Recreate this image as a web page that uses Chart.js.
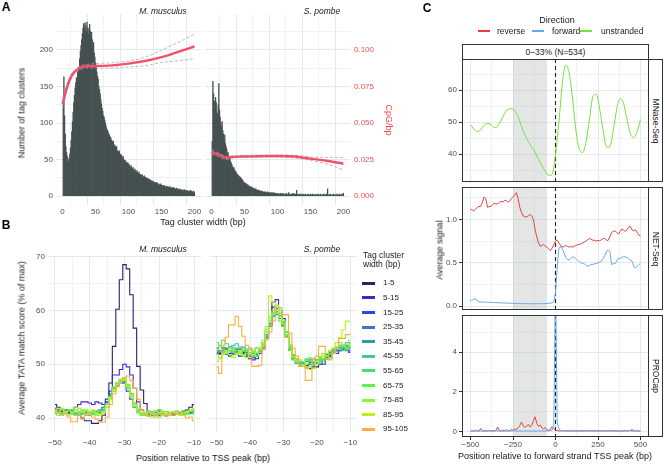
<!DOCTYPE html>
<html>
<head>
<meta charset="utf-8">
<title>TSS figure</title>
<script src="https://cdn.jsdelivr.net/npm/chart.js@4.4.1/dist/chart.umd.min.js"></script>
<style>
    body {
        margin: 0;
        width: 665px;
        height: 465px;
        position: relative;
        overflow: hidden;
        background: #ffffff;
        font-family: "Liberation Sans", Arial, sans-serif;
    }
    canvas { position: absolute; }
    .t { position: absolute; white-space: nowrap; font-size: 9px; color: #1a1a1a; line-height: 1; }
    .strip { position: absolute; box-sizing: border-box; border: 1px solid #333; background: #fff; }
    .key { position: absolute; }
</style>
</head>
<body>
<script>
// ---------- panel A: tag cluster widths (1 bp bins) ----------
const mmHist = [
    125, 163, 110, 85, 68, 60, 55, 50, 47, 52,
    58, 66, 76, 88, 102, 115, 128, 138, 148, 155,
    162, 158, 170, 176, 174, 188, 198, 206, 214, 222,
    230, 236, 228, 237, 233, 225, 238, 230, 222, 229,
    235, 226, 218, 224, 214, 206, 210, 196, 190, 182,
    176, 170, 164, 160, 150, 146, 140, 132, 126, 120,
    116, 110, 108, 104, 100, 96, 92, 90, 88, 85,
    84, 81, 80, 77, 76, 74, 75, 70, 70, 68,
    66, 68, 62, 62, 60, 62, 58, 56, 57, 55,
    52, 54, 50, 48, 49, 47, 46, 45, 46, 43,
    44, 41, 40, 42, 39, 38, 39, 36, 35, 37,
    34, 33, 35, 32, 31, 33, 30, 29, 30, 28,
    29, 27, 26, 28, 25, 26, 24, 25, 23, 24,
    22, 23, 21, 22, 20, 21, 19, 20, 18, 19,
    18, 19, 17, 18, 16, 17, 15, 16, 17, 15,
    14, 15, 13, 15, 14, 12, 13, 14, 12, 13,
    12, 11, 13, 11, 12, 10, 11, 12, 10, 11,
    10, 9, 11, 9, 10, 9, 8, 10, 9, 8,
    8, 9, 7, 8, 9, 7, 8, 7, 8, 6,
    7, 6, 7, 8, 6, 7, 5, 6, 7, 5,
]
const spHist = [
    75, 157, 140, 130, 120, 135, 128, 115, 112, 125,
    154, 118, 108, 100, 95, 102, 90, 85, 78, 84,
    72, 68, 64, 58, 60, 55, 52, 50, 47, 45,
    43, 40, 38, 39, 36, 34, 33, 31, 30, 29,
    28, 27, 25, 26, 24, 23, 22, 20, 19, 18,
    18, 16, 17, 15, 16, 14, 13, 14, 12, 13,
    12, 11, 10, 11, 10, 9, 10, 8, 9, 8,
    8, 7, 8, 6, 7, 6, 7, 6, 5, 6,
    5, 6, 5, 4, 6, 5, 4, 5, 4, 5,
    4, 5, 3, 4, 5, 3, 4, 3, 4, 3,
    3, 4, 2, 3, 4, 3, 2, 4, 3, 2,
    3, 2, 4, 3, 2, 3, 5, 2, 3, 2,
    3, 2, 3, 4, 2, 3, 2, 3, 8, 2,
    3, 2, 1, 3, 2, 3, 2, 1, 3, 2,
    2, 3, 2, 1, 2, 3, 2, 2, 1, 3,
    2, 1, 3, 2, 2, 1, 3, 2, 1, 2,
    3, 2, 1, 2, 3, 2, 1, 2, 2, 3,
    2, 1, 2, 3, 2, 10, 2, 1, 2, 3,
    2, 1, 2, 2, 3, 1, 2, 2, 1, 3,
    2, 1, 2, 3, 2, 1, 2, 3, 1, 4,
]
// CpG/bp smooth fit with its confidence band
const mmFitX = [0, 5, 10, 15, 23, 30, 40, 50, 75, 100, 125, 150, 175, 200]
const mmFit = [0.063, 0.0718, 0.0787, 0.0833, 0.0867, 0.0883, 0.089, 0.089, 0.0894, 0.0906, 0.0924, 0.095, 0.0986, 0.1023]
const mmUpper = [0.0665, 0.0745, 0.0805, 0.0848, 0.088, 0.0895, 0.0902, 0.0906, 0.0912, 0.0924, 0.095, 0.0998, 0.105, 0.1108]
const mmLower = [0.0595, 0.069, 0.0768, 0.0818, 0.0854, 0.087, 0.0877, 0.0874, 0.0876, 0.0883, 0.0892, 0.0913, 0.0925, 0.094]
const spFitX = [0, 9, 19, 24, 30, 45, 70, 100, 126, 152, 177, 200]
const spFit = [0.03, 0.0287, 0.0266, 0.0261, 0.0268, 0.0271, 0.0273, 0.0275, 0.0271, 0.0255, 0.0241, 0.0222]
const spUpper = [0.0315, 0.0299, 0.0277, 0.0272, 0.0276, 0.0279, 0.0281, 0.0282, 0.028, 0.0268, 0.0265, 0.0264]
const spLower = [0.0285, 0.0275, 0.0255, 0.025, 0.026, 0.0264, 0.0266, 0.0268, 0.0262, 0.0243, 0.0217, 0.0179]

// ---------- panel B: TATA match score, positions -50..-10 ----------
const tataGroups = ["1-5", "5-15", "15-25", "25-35", "35-45", "45-55", "55-65", "65-75", "75-85", "85-95", "95-105"]
const tataColors = ["#2d1f6c", "#3f2ac0", "#3542e0", "#3d78c8", "#3a95a8", "#4cc49a", "#45e072", "#5cf545", "#8af53a", "#b9f212", "#fbb040"]
const mmTata = [
    [42.5, 42, 41.5, 41.5, 41, 41.5, 41, 40.5, 40, 39.5, 39.5, 39, 39, 39.5, 40.5, 43, 46.5, 53.3, 60.2, 65.7, 68.5, 67.7, 62.9, 56.7, 49.6, 45.2, 42.7, 41, 40.5, 41, 41.5, 41, 40.5, 41, 40.5, 41, 40.8, 41, 41.5, 42, 42.5],
    [41.5, 41.5, 41, 41.5, 41, 41.5, 42, 42.5, 43, 43, 42.8, 42.5, 43, 42.8, 42.5, 43.5, 45, 48, 48, 49, 50, 49.5, 48, 45.5, 43, 41.5, 41, 40.5, 41, 40.5, 40.8, 41.2, 40.5, 41, 40.8, 41, 41.2, 40.8, 41.3, 41, 41.5],
    [41.8, 41.5, 41.2, 41, 41.3, 40.8, 41, 41.2, 40.8, 40.5, 41, 41.3, 41, 41.5, 42, 43, 44.5, 45.5, 46.5, 47, 46.5, 45, 43.5, 42, 41.5, 41, 40.6, 40.8, 41.2, 41, 40.5, 40.8, 41.2, 41, 40.8, 41, 41.2, 40.8, 41, 41.3, 41.6],
    [41.5, 41.2, 41.5, 41, 40.8, 41.2, 41, 40.5, 40.8, 41, 41.2, 40.8, 41.2, 41, 41.5, 42.5, 44, 45.5, 46, 46.5, 46.8, 45.5, 44, 42.5, 41.2, 40.8, 41, 40.7, 41, 41.3, 40.8, 41, 40.6, 41, 41.2, 40.8, 41, 41.3, 40.9, 41.2, 41.5],
    [41.2, 41, 40.8, 41.2, 41.5, 41, 40.6, 41, 41.3, 40.8, 40.5, 41, 40.8, 41.2, 41.6, 42.8, 44.2, 45, 46, 46.8, 46.5, 45.8, 44.5, 42.8, 41.5, 41, 40.8, 41.2, 40.6, 41, 41.2, 40.8, 41.2, 41, 40.6, 41, 40.8, 41.2, 41, 40.8, 41.2],
    [40.8, 41.2, 41.5, 41, 40.6, 41.2, 41.5, 41, 40.8, 41.2, 41, 40.6, 41, 41.5, 41.2, 42.5, 44, 45.5, 46.2, 47, 47.2, 46, 44.2, 42.5, 41.2, 40.6, 41, 41.3, 40.8, 40.5, 41, 41.2, 40.8, 40.5, 41, 41.3, 41, 40.6, 41, 41.2, 40.8],
    [41.5, 41, 40.5, 40.8, 41.2, 41.5, 41, 40.5, 41.2, 41.5, 41, 40.8, 41.3, 40.8, 41.5, 42, 43.5, 45, 46.5, 47.2, 47, 45.5, 44, 42, 41, 40.8, 40.5, 41, 41.2, 40.6, 40.8, 41.2, 40.5, 40.8, 41.2, 41, 40.6, 41, 41.3, 40.8, 41],
    [41, 40.5, 41, 41.5, 41.2, 40.8, 40.5, 41, 41.5, 41.2, 40.8, 41, 40.5, 41.2, 41, 42.5, 44, 45.8, 46.5, 47, 47.5, 46.2, 44.5, 42.2, 41, 40.5, 40.8, 41.2, 41, 40.5, 40.2, 40.8, 41.2, 40.6, 41, 41.2, 40.8, 41, 40.6, 41.2, 41.5],
    [41.2, 41.8, 41.5, 41, 40.6, 41.5, 42, 41.2, 41, 40.5, 40.8, 41.3, 41, 40.8, 41.2, 42, 43.8, 45.2, 46.5, 47.2, 47, 46, 44, 42.2, 41.3, 40.8, 41, 40.5, 40.2, 40.8, 41, 41.3, 40.8, 40.5, 41, 40.8, 41.2, 40.6, 41, 41.3, 41.6],
    [41.5, 41, 41.8, 41.2, 40.6, 41, 41.5, 41.8, 41.2, 40.8, 41.2, 41.5, 40.8, 40.5, 41, 42, 43.5, 45, 46.2, 46.8, 47.2, 45.8, 44.2, 42.5, 41.5, 41, 40.6, 41, 40.8, 41.2, 41.5, 41, 40.6, 40.8, 41.2, 41, 40.5, 41, 41.2, 41.5, 41.8],
    [41.5, 41, 40.5, 40.8, 40.2, 39.3, 39.3, 40.5, 39.8, 40.5, 40.8, 40.2, 39.8, 39.2, 39.2, 40.2, 42.5, 44.5, 45.8, 46.8, 47.5, 47.8, 47, 45.5, 43.5, 41.5, 40.8, 40.3, 40.6, 40.2, 40.8, 40.5, 40.3, 41, 40.5, 41.2, 40.8, 40.5, 40, 40.2, 39.5],
]
const spTata = [
    [52.5, 52, 53, 52.5, 52, 51.8, 52.3, 52.8, 52.2, 51.5, 51, 51.5, 52, 52.5, 53.5, 55.5, 58.5, 60.6, 60, 58.5, 57.5, 55, 53, 51.5, 50.5, 50, 50.2, 49.8, 50.3, 50, 49.5, 50, 50.5, 51, 51.5, 52, 52.5, 53, 52.8, 53.2, 53],
    [53, 52.5, 52, 52.8, 53.2, 52.5, 52, 51.5, 52, 52.5, 52, 51.2, 51, 52, 53, 55, 57.5, 61.5, 62, 60, 58.5, 56, 53.5, 51.5, 50.5, 50, 50.5, 49.5, 49.2, 49.5, 50, 50.5, 50, 51, 51.5, 52.5, 53, 52.5, 53.5, 53, 52.5],
    [52, 52.5, 53, 52, 51.5, 52, 52.8, 52.2, 51.8, 52.2, 51.5, 50.8, 51.5, 52.5, 53.5, 55, 57, 59.5, 60.4, 59, 57.8, 55.5, 53, 51, 50.2, 49.8, 50.2, 50.5, 50, 49.6, 50.2, 50.8, 50.5, 51.2, 52, 52.5, 52, 53, 53.2, 52.8, 52.2],
    [51.8, 52.2, 52.5, 51.8, 52.5, 53, 52.5, 52, 52.5, 51.8, 51.5, 52, 51.8, 52.5, 53.2, 55.5, 57.5, 59, 59.5, 58.5, 57, 55.5, 52.8, 51.2, 50.5, 50.2, 50, 50.5, 50.8, 50.2, 50, 50.5, 51, 51.5, 52.2, 52.8, 52.5, 53.2, 53, 52.5, 53],
    [52.2, 51.8, 52.5, 53, 52.5, 51.8, 52.2, 52.8, 53.2, 52.5, 52, 52.5, 53, 52.8, 53.5, 55, 57, 58.8, 59.2, 58.5, 57.2, 55.2, 53.2, 51.5, 50.8, 50.5, 50.2, 50.8, 50.5, 50.2, 50.8, 51.2, 51, 51.8, 52.5, 52.2, 52.8, 53.5, 53, 53.5, 53.2],
    [53, 52.5, 52, 52.5, 53, 53.5, 53.8, 53.2, 52.5, 52.8, 53, 52.5, 52, 52.5, 53, 54.8, 57.2, 59, 59.8, 59, 57.5, 55, 53, 51.8, 51, 50.5, 50.2, 50, 50.5, 51, 50.5, 50.2, 50.8, 51.5, 52, 52.5, 53, 52.8, 53.2, 54, 53.8],
    [52.5, 53.2, 54.5, 53.8, 53, 52.5, 53, 52.2, 51.8, 52.5, 52, 51.5, 52, 53, 54, 56, 58, 59.5, 60.8, 59.5, 57.8, 55.5, 52.5, 50.8, 50.2, 49.8, 50.5, 51, 50.2, 49.8, 50.5, 51, 50.5, 51, 51.8, 52.5, 53.2, 53, 52.5, 53.2, 54],
    [54, 53.5, 52.8, 52, 52.5, 53, 52.5, 52, 51.5, 52, 52.8, 52.2, 51.5, 52.5, 54, 56.5, 58.8, 60, 59.5, 58, 57, 55.5, 53.5, 51.5, 50.5, 49.8, 50, 50.8, 51.2, 50.5, 50, 50.5, 51, 51.5, 51.2, 52, 52.8, 53.5, 53.2, 52.8, 53.5],
    [51.8, 51.2, 51.8, 52.5, 53, 52.5, 51.8, 52.2, 52.8, 52.5, 51.8, 51.5, 52.2, 53, 54.5, 57, 58.5, 59.5, 61, 60, 58, 56, 53.5, 51.5, 50.8, 50, 49.6, 49.2, 49.5, 50, 50.5, 51.5, 52, 51.5, 51, 52, 53, 54, 53.5, 53, 54.5],
    [50.5, 51, 52, 52.5, 51.8, 51.2, 52, 52.5, 51.8, 51.2, 52, 52.5, 53, 52.8, 53.5, 56, 62.7, 61.5, 60, 58.8, 57.5, 55, 53, 51.2, 50.5, 50.8, 50.5, 49.5, 49, 49.2, 50, 51, 51.5, 52, 52.5, 53, 54, 55, 56.4, 58, 58],
    [49.5, 48.3, 53.5, 55, 57.3, 57.3, 58.9, 57, 55.2, 53.5, 52.7, 49.6, 49.6, 49.8, 52.7, 54.5, 56, 58, 60.5, 60.5, 59.2, 59.2, 55.8, 53, 51.5, 49.6, 49.6, 47, 47, 50.8, 51.5, 53.3, 53.3, 51, 50.8, 52, 53, 54.8, 54.8, 55.5, 55.5],
]

// ---------- panel C: signals around forward TSS peak ----------
const shadeFrom = -250
const shadeTo = -50
// MNase-Seq, every 20 bp from -500 to 500
const mnase = [
    49.2, 47.8, 47.0, 47.6, 49.0, 49.6, 49.2, 48.3, 48.8, 50.6,
    52.6, 54.0, 54.2, 53.6, 51.8, 48.6, 46.0, 44.0, 42.3, 40.6,
    38.3, 36.4, 34.6, 33.3, 33.6, 40.0, 50.0, 62.0, 67.8, 65.5,
    57.5, 47.5, 41.5, 40.5, 44.0, 51.0, 58.0, 58.8, 54.0, 47.5,
    42.2, 42.3, 47.5, 54.0, 57.4, 56.0, 51.0, 46.5, 45.1, 47.0,
    50.8,
]
// NET-Seq and PRO-Cap, every 10 bp from -500 to 500
const netRev = [
    1.12, 1.11, 1.10, 1.12, 1.14, 1.15, 1.15, 1.20, 1.26, 1.24,
    1.14, 1.15, 1.15, 1.17, 1.19, 1.18, 1.18, 1.20, 1.21, 1.20,
    1.22, 1.22, 1.20, 1.21, 1.24, 1.26, 1.28, 1.31, 1.24, 1.14,
    1.08, 1.04, 1.03, 1.03, 1.04, 1.06, 1.04, 1.00, 0.88, 0.80,
    0.73, 0.69, 0.70, 0.71, 0.69, 0.68, 0.66, 0.64, 0.67, 0.71,
    0.75, 0.76, 0.73, 0.70, 0.68, 0.69, 0.70, 0.69, 0.68, 0.69,
    0.68, 0.69, 0.70, 0.71, 0.71, 0.72, 0.73, 0.74, 0.75, 0.77,
    0.78, 0.77, 0.76, 0.76, 0.75, 0.76, 0.75, 0.77, 0.78, 0.78,
    0.76, 0.76, 0.80, 0.85, 0.86, 0.87, 0.85, 0.83, 0.86, 0.89,
    0.88, 0.86, 0.88, 0.91, 0.92, 0.88, 0.87, 0.88, 0.85, 0.82,
    0.81,
]
const netFwd = [
    0.065, 0.07, 0.08, 0.085, 0.06, 0.05, 0.048, 0.047, 0.046, 0.045,
    0.044, 0.043, 0.042, 0.041, 0.04, 0.04, 0.039, 0.038, 0.037, 0.036,
    0.035, 0.035, 0.034, 0.033, 0.033, 0.032, 0.031, 0.031, 0.03, 0.03,
    0.029, 0.029, 0.028, 0.028, 0.028, 0.027, 0.027, 0.027, 0.027, 0.027,
    0.027, 0.028, 0.028, 0.029, 0.03, 0.031, 0.032, 0.034, 0.038, 0.05,
    0.15, 0.45, 0.66, 0.69, 0.66, 0.62, 0.56, 0.54, 0.53, 0.55,
    0.57, 0.56, 0.55, 0.53, 0.51, 0.5, 0.49, 0.49, 0.47, 0.46,
    0.47, 0.48, 0.48, 0.49, 0.49, 0.5, 0.51, 0.52, 0.55, 0.58,
    0.63, 0.65, 0.63, 0.48, 0.49, 0.49, 0.52, 0.55, 0.55, 0.56,
    0.57, 0.57, 0.56, 0.55, 0.53, 0.52, 0.46, 0.44, 0.46, 0.48,
    0.49,
]
const procapRev = [
    0.02, 0.03, 0.02, 0.06, 0.02, 0.03, 0.15, 0.03, 0.02, 0.04,
    0.03, 0.05, 0.02, 0.04, 0.03, 0.05, 0.22, 0.04, 0.03, 0.06,
    0.04, 0.08, 0.05, 0.03, 0.1, 0.06, 0.12, 0.09, 0.18, 0.3,
    0.48, 0.28, 0.2, 0.26, 0.36, 0.22, 0.3, 0.55, 0.74, 0.4,
    0.26, 0.32, 0.18, 0.12, 0.2, 0.08, 0.06, 0.1, 0.24, 0.14,
    0.06, 0.04, 0.03, 0.02, 0.03, 0.05, 0.02, 0.03, 0.02, 0.04,
    0.03, 0.02, 0.05, 0.02, 0.03, 0.04, 0.02, 0.03, 0.06, 0.02,
    0.03, 0.04, 0.02, 0.03, 0.05, 0.02, 0.03, 0.02, 0.04, 0.03,
    0.02, 0.05, 0.03, 0.02, 0.04, 0.03, 0.02, 0.04, 0.03, 0.02,
    0.03, 0.05, 0.02, 0.03, 0.04, 0.03, 0.02, 0.04, 0.03, 0.02,
    0.03,
]
const procapFwd = [
    0.02, 0.03, 0.02, 0.02, 0.03, 0.02, 0.02, 0.03, 0.02, 0.02,
    0.02, 0.03, 0.02, 0.02, 0.02, 0.03, 0.02, 0.02, 0.03, 0.02,
    0.02, 0.02, 0.03, 0.02, 0.02, 0.03, 0.02, 0.02, 0.02, 0.03,
    0.02, 0.03, 0.02, 0.02, 0.03, 0.02, 0.02, 0.03, 0.02, 0.02,
    0.03, 0.02, 0.03, 0.02, 0.03, 0.04, 0.03, 0.05, 0.06, 0.25,
    8.0, 0.45, 0.12, 0.06, 0.04, 0.03, 0.03, 0.02, 0.03, 0.02,
    0.02, 0.03, 0.02, 0.02, 0.03, 0.02, 0.02, 0.03, 0.02, 0.02,
    0.03, 0.02, 0.02, 0.03, 0.02, 0.02, 0.03, 0.02, 0.02, 0.03,
    0.02, 0.02, 0.03, 0.02, 0.02, 0.03, 0.02, 0.02, 0.03, 0.02,
    0.02, 0.03, 0.02, 0.04, 0.05, 0.12, 0.04, 0.02, 0.03, 0.02,
    0.02,
]

const barColor = "#455050"
const fitColor = "#f4506e"
const ciColor = "#a8a8a8"
const cpgColor = "#f24d4d"
const revColor = "#e8403f"
const fwdColor = "#66a8ee"
const unsColor = "#78e03a"
const majorGrid = "#e2eaea"
const minorGrid = "#eef3f3"

Chart.defaults.font.family = "'Liberation Sans', Arial, sans-serif"
Chart.defaults.font.size = 8
Chart.defaults.color = "#4d4d4d"
Chart.defaults.animation = false
Chart.defaults.responsive = false
Chart.defaults.devicePixelRatio = 1
Chart.defaults.plugins.legend.display = false
Chart.defaults.plugins.tooltip.enabled = false
Chart.defaults.elements.point.radius = 0

function isMajor(v, step) {
    const r = v / step
    return Math.abs(r - Math.round(r)) < 1e-6
}

function minus(v) {
    return v < 0 ? "\u2212" + Math.abs(v) : String(v)
}

function gridColor(step) {
    return (ctx) => (ctx.tick && !isMajor(ctx.tick.value, step) ? minorGrid : majorGrid)
}

function pts(xs, ys) {
    return xs.map((x, i) => ({ x: x, y: ys[i] }))
}

// canvas placed so the chart area lands on the given page rectangle
function addCanvas(area, yW, xH, rW) {
    const padT = 10
    const padR = rW ? 0 : 12
    const c = document.createElement("canvas")
    const w = area.r - area.l + yW + padR + rW
    const h = area.b - area.t + padT + xH
    c.width = w
    c.height = h
    c.style.left = area.l - yW + "px"
    c.style.top = area.t - padT + "px"
    document.body.appendChild(c)
    return { canvas: c, padding: { left: 0, right: padR, top: padT, bottom: 0 } }
}

function text(str, x, y, opts) {
    opts = opts || {}
    const d = document.createElement("div")
    d.className = "t"
    d.textContent = str
    d.style.left = x + "px"
    d.style.top = y + "px"
    let tf = opts.left ? "translate(0,-50%)" : "translate(-50%,-50%)"
    if (opts.rot) tf += " rotate(" + opts.rot + "deg)"
    d.style.transform = tf
    if (opts.size) d.style.fontSize = opts.size + "px"
    if (opts.bold) d.style.fontWeight = "bold"
    if (opts.italic) d.style.fontStyle = "italic"
    if (opts.color) d.style.color = opts.color
    document.body.appendChild(d)
}

function box(cls, l, t, w, h, bg) {
    const d = document.createElement("div")
    d.className = cls
    d.style.left = l + "px"
    d.style.top = t + "px"
    d.style.width = w + "px"
    d.style.height = h + "px"
    if (bg) d.style.background = bg
    document.body.appendChild(d)
}

// ---------- panel A ----------
const histX = mmHist.map((_, i) => i + 1)

function histChart(area, yW, rW, hist, fitX, fit, upper, lower) {
    const { canvas, padding } = addCanvas(area, yW, 22, rW)
    return new Chart(canvas, {
        type: "bar",
        data: {
            datasets: [
                { type: "line", data: pts(fitX, fit), yAxisID: "y2", borderColor: fitColor, borderWidth: 2.4, cubicInterpolationMode: "monotone", order: 0 },
                { type: "line", data: pts(fitX, upper), yAxisID: "y2", borderColor: ciColor, borderWidth: 0.8, borderDash: [3, 2], cubicInterpolationMode: "monotone", order: 1 },
                { type: "line", data: pts(fitX, lower), yAxisID: "y2", borderColor: ciColor, borderWidth: 0.8, borderDash: [3, 2], cubicInterpolationMode: "monotone", order: 1 },
                { type: "bar", data: pts(histX, hist), yAxisID: "y", backgroundColor: barColor, barPercentage: 1, categoryPercentage: 1, order: 3 },
            ],
        },
        options: {
            layout: { padding },
            scales: {
                x: {
                    type: "linear", min: -10, max: 210, offset: false,
                    grid: { color: gridColor(50), drawTicks: false },
                    border: { display: false },
                    ticks: { stepSize: 25, autoSkip: false, includeBounds: false, padding: 2, maxRotation: 0, callback: (v) => (isMajor(v, 50) ? v : "") },
                    afterFit: (s) => { s.height = 22 },
                },
                y: {
                    type: "linear", min: -12, max: 249,
                    grid: { color: gridColor(50), drawTicks: false },
                    border: { display: false },
                    ticks: { display: yW > 0, stepSize: 25, autoSkip: false, includeBounds: false, padding: 3, callback: (v) => (isMajor(v, 50) && v <= 200 ? v : "") },
                    afterFit: (s) => { s.width = yW },
                },
                y2: {
                    type: "linear", position: "right", min: -0.006, max: 0.1245, display: rW > 0,
                    grid: { display: false, drawTicks: false },
                    border: { display: false },
                    ticks: { color: cpgColor, stepSize: 0.025, autoSkip: false, includeBounds: false, padding: 4, callback: (v) => v.toFixed(3) },
                    afterFit: (s) => { s.width = rW },
                },
            },
        },
    })
}

histChart({ l: 56, t: 14, r: 201, b: 205 }, 30, 0, mmHist, mmFitX, mmFit, mmUpper, mmLower)
histChart({ l: 205, t: 14, r: 350, b: 205 }, 0, 40, spHist, spFitX, spFit, spUpper, spLower)

text("A", 6, 7, { size: 12, bold: true, color: "#000" })
text("M. musculus", 163, 11, { size: 8.5, italic: true })
text("S. pombe", 322, 11, { size: 8.5, italic: true })
text("Number of tag clusters", 22, 113, { rot: -90 })
text("CpG/bp", 388, 120, { rot: 90, color: cpgColor })
text("Tag cluster width (bp)", 203, 222)

// ---------- panel B ----------
const tataPos = mmTata[0].map((_, i) => i - 50)

function tataChart(area, yW, series) {
    const { canvas, padding } = addCanvas(area, yW, 20, 0)
    return new Chart(canvas, {
        type: "line",
        data: {
            datasets: series.map((arr, i) => ({
                data: pts(tataPos, arr),
                borderColor: tataColors[i],
                borderWidth: 1.1,
                stepped: "middle",
                order: series.length - i,
            })),
        },
        options: {
            layout: { padding },
            scales: {
                x: {
                    type: "linear", min: -52, max: -8,
                    grid: { color: gridColor(10), drawTicks: false },
                    border: { display: false },
                    ticks: { stepSize: 5, autoSkip: false, includeBounds: false, padding: 6, maxRotation: 0, callback: (v) => (isMajor(v, 10) ? minus(v) : "") },
                    afterFit: (s) => { s.height = 20 },
                },
                y: {
                    type: "linear", min: 37.4, max: 70.1,
                    grid: { color: gridColor(10), drawTicks: false },
                    border: { display: false },
                    ticks: { display: yW > 0, stepSize: 5, autoSkip: false, includeBounds: false, padding: 3, callback: (v) => (isMajor(v, 10) ? v : "") },
                    afterFit: (s) => { s.width = yW },
                },
            },
        },
    })
}

tataChart({ l: 48, t: 256, r: 201, b: 432 }, 25, mmTata)
tataChart({ l: 204, t: 256, r: 357, b: 432 }, 0, spTata)

text("B", 6, 225, { size: 12, bold: true, color: "#000" })
text("M. musculus", 163, 249, { size: 8.5, italic: true })
text("S. pombe", 322, 249, { size: 8.5, italic: true })
text("Average TATA match score (% of max)", 22, 338, { rot: -90 })
text("Position relative to TSS peak (bp)", 203, 458)
text("Tag cluster", 363, 255, { left: true, size: 8.5 })
text("width (bp)", 363, 264, { left: true, size: 8.5 })
tataGroups.forEach((g, i) => {
    const y = 283.3 + i * 14.6
    box("key", 362, y - 1.5, 13, 3, tataColors[i])
    text(g, 383, y, { left: true, size: 8 })
})

// ---------- panel C ----------
const mnasePos = mnase.map((_, i) => i * 20 - 500)
const sigPos = netRev.map((_, i) => i * 10 - 500)

const tssMarks = {
    id: "tssMarks",
    beforeDatasetsDraw(chart) {
        const { ctx, chartArea: a, scales } = chart
        const x0 = scales.x.getPixelForValue(shadeFrom)
        const x1 = scales.x.getPixelForValue(shadeTo)
        const xz = scales.x.getPixelForValue(0)
        ctx.save()
        ctx.fillStyle = "rgba(165,172,172,0.3)"
        ctx.fillRect(x0, a.top, x1 - x0, a.bottom - a.top)
        ctx.strokeStyle = "#222"
        ctx.lineWidth = 1.1
        ctx.setLineDash([4, 3])
        ctx.beginPath()
        ctx.moveTo(xz, a.top)
        ctx.lineTo(xz, a.bottom)
        ctx.stroke()
        ctx.restore()
    },
    afterDraw(chart) {
        const { ctx, chartArea: a } = chart
        ctx.save()
        ctx.strokeStyle = "#333"
        ctx.lineWidth = 1
        ctx.strokeRect(Math.round(a.left) + 0.5, Math.round(a.top) + 0.5, Math.round(a.right - a.left) - 1, Math.round(a.bottom - a.top) - 1)
        ctx.restore()
    },
}

function tickColor(step) {
    return (ctx) => (ctx.tick && isMajor(ctx.tick.value, step) ? "#333" : "rgba(0,0,0,0)")
}

function signalChart(area, datasets, y, showX) {
    const xH = showX ? 18 : 10
    const { canvas, padding } = addCanvas(area, 25, xH, 0)
    return new Chart(canvas, {
        type: "line",
        data: { datasets: datasets },
        options: {
            layout: { padding },
            scales: {
                x: {
                    type: "linear", min: -550, max: 550,
                    grid: { color: gridColor(250), drawTicks: showX, tickLength: 3, tickColor: tickColor(250) },
                    border: { display: false },
                    ticks: { display: showX, stepSize: 125, autoSkip: false, includeBounds: false, padding: 0, maxRotation: 0, callback: (v) => (isMajor(v, 250) ? minus(v) : "") },
                    afterFit: (s) => { s.height = xH },
                },
                y: {
                    type: "linear", min: y.min, max: y.max,
                    grid: { color: gridColor(y.major), tickLength: 3, tickColor: tickColor(y.major) },
                    border: { display: false },
                    ticks: { stepSize: y.step, autoSkip: false, includeBounds: false, padding: 2, callback: (v) => (isMajor(v, y.major) ? y.fmt(v) : "") },
                    afterFit: (s) => { s.width = 25 },
                },
            },
        },
        plugins: [tssMarks],
    })
}

signalChart(
    { l: 462, t: 59, r: 649, b: 182 },
    [{ data: pts(mnasePos, mnase), borderColor: unsColor, borderWidth: 1, cubicInterpolationMode: "monotone" }],
    { min: 31.25, max: 69.75, step: 5, major: 10, fmt: (v) => String(v) },
    false
)
signalChart(
    { l: 462, t: 187, r: 649, b: 310 },
    [
        { data: pts(sigPos, netRev), borderColor: revColor, borderWidth: 1 },
        { data: pts(sigPos, netFwd), borderColor: fwdColor, borderWidth: 1 },
    ],
    { min: -0.045, max: 1.375, step: 0.25, major: 0.5, fmt: (v) => v.toFixed(1) },
    false
)
signalChart(
    { l: 462, t: 315, r: 649, b: 437 },
    [
        { data: pts(sigPos, procapFwd), borderColor: fwdColor, borderWidth: 1 },
        { data: pts(sigPos, procapRev), borderColor: revColor, borderWidth: 1 },
    ],
    { min: -0.28, max: 5.88, step: 1, major: 2, fmt: (v) => String(v) },
    true
)

// facet strips
box("strip", 462, 44, 187, 16)
text("0\u201333% (N=534)", 555.5, 52, { size: 8.5 })
const stripRows = [
    ["MNase-Seq", 59, 182],
    ["NET-Seq", 187, 310],
    ["PROCap", 315, 437],
]
stripRows.forEach((s) => {
    box("strip", 648, s[1], 15, s[2] - s[1])
    text(s[0], 655.5, (s[1] + s[2]) / 2, { rot: 90, size: 8.5 })
})

text("C", 427, 8, { size: 12, bold: true, color: "#000" })
text("Direction", 557, 20)
const dirKeys = [
    ["reverse", revColor, 478, 497],
    ["forward", fwdColor, 532, 552],
    ["unstranded", unsColor, 580, 601],
]
dirKeys.forEach((k) => {
    box("key", k[2], 30.3, 12, 1.4, k[1])
    text(k[0], k[3], 31, { left: true, size: 8.5 })
})
text("Average signal", 440, 250, { rot: -90 })
text("Position relative to forward strand TSS peak (bp)", 555, 456)
</script>
</body>
</html>
